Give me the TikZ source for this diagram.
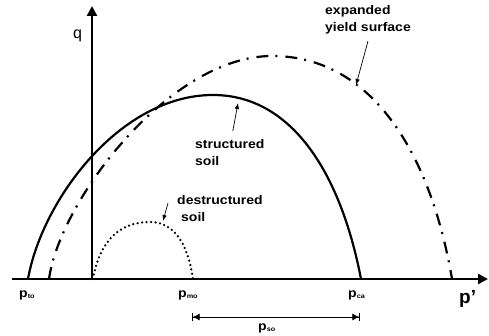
\documentclass[tikz,border=0pt]{standalone}
\usepackage{fontspec}
\setmainfont{Liberation Sans}
\newfontfamily\lblfont[FakeStretch=1.12]{Liberation Sans}
\usetikzlibrary{arrows.meta, positioning}
\newcommand{\psub}[1]{p\raisebox{-1.5pt}{\fontsize{6.5}{6.5}\selectfont #1}}

\begin{document}
\begin{tikzpicture}[x=1pt, y=-1pt,
  font=\lblfont\fontsize{12.5}{17}\selectfont\bfseries,
  axis/.style={line width=2.4pt, -{Triangle[length=10pt, width=10pt]}},
  structured/.style={line width=2.2pt},
  expanded/.style={line width=2.2pt, dash pattern=on 12pt off 7pt on 2pt off 8pt},
  destructured/.style={line width=2.5pt, line cap=round, dash pattern=on 0pt off 4.5pt},
  lbl/.style={align=left, anchor=north west, inner sep=0pt},
  plabel/.style={inner sep=0pt, anchor=base west},
  pointer/.style={line width=0.7pt, -{Latex[length=6pt, width=4.5pt]}},
  span/.style={line width=0.7pt,
    {Bar[width=8pt]Latex[length=7pt, width=7pt]}-{Latex[length=7pt, width=7pt]Bar[width=8pt]}},
  ]
\useasboundingbox (0,0) rectangle (489,336);

% axes
\coordinate (O) at (92,279);
\coordinate (xstart) at (12,279);
\coordinate (xend) at (488,279);
\coordinate (yend) at (92,6);
\draw[axis] (xstart) -- (xend);
\draw[axis] (O) -- (yend);
\node[plabel, font=\fontsize{16}{16}\selectfont] (qlab) at (73,39) {q};
\node[plabel, font=\fontsize{19}{19}\selectfont\bfseries] (plab) at (459,303) {p'};

% yield surfaces
\draw[structured] (28,279) .. controls (42,200) and (120,95) .. (213,95)
  .. controls (290,95) and (340,170) .. (361,279);
\draw[expanded] (49,279) .. controls (60,200) and (170,56) .. (272,56)
  .. controls (370,56) and (430,150) .. (452,279);
\draw[destructured] (93,279) .. controls (100,240) and (120,222) .. (150,222)
  .. controls (175,222) and (188,245) .. (193,279);

% labels
\node[lbl] (explab) at (325,5) {expanded\\yield surface};
\node[lbl] (strlab) at (195,139) {structured\\soil};
\node[lbl] (deslab) at (177,195) {destructured\\\hspace*{4pt}soil};
\coordinate (exptip) at (356,85);
\coordinate (strtip) at (238,103);
\coordinate (destip) at (163,221);
\draw[pointer] ([shift={(0,7)}]explab.south) -- (exptip);
\draw[pointer] ([shift={(3,-8)}]strlab.north) -- (strtip);
\draw[pointer] ([shift={(-9,8)}]deslab.north west) -- (destip);

% pressures on the p' axis
\node[plabel] (pto) at (19,297) {\psub{to}};
\node[plabel] (pmo) at (178,297) {\psub{mo}};
\node[plabel] (pca) at (348,297) {\psub{ca}};
\node[plabel] (pso) at (258,330) {\psub{so}};
\coordinate (somo) at (192,317);
\coordinate (soca) at (360,317);
\draw[span] (somo) -- (soca);
\end{tikzpicture}
\end{document}
